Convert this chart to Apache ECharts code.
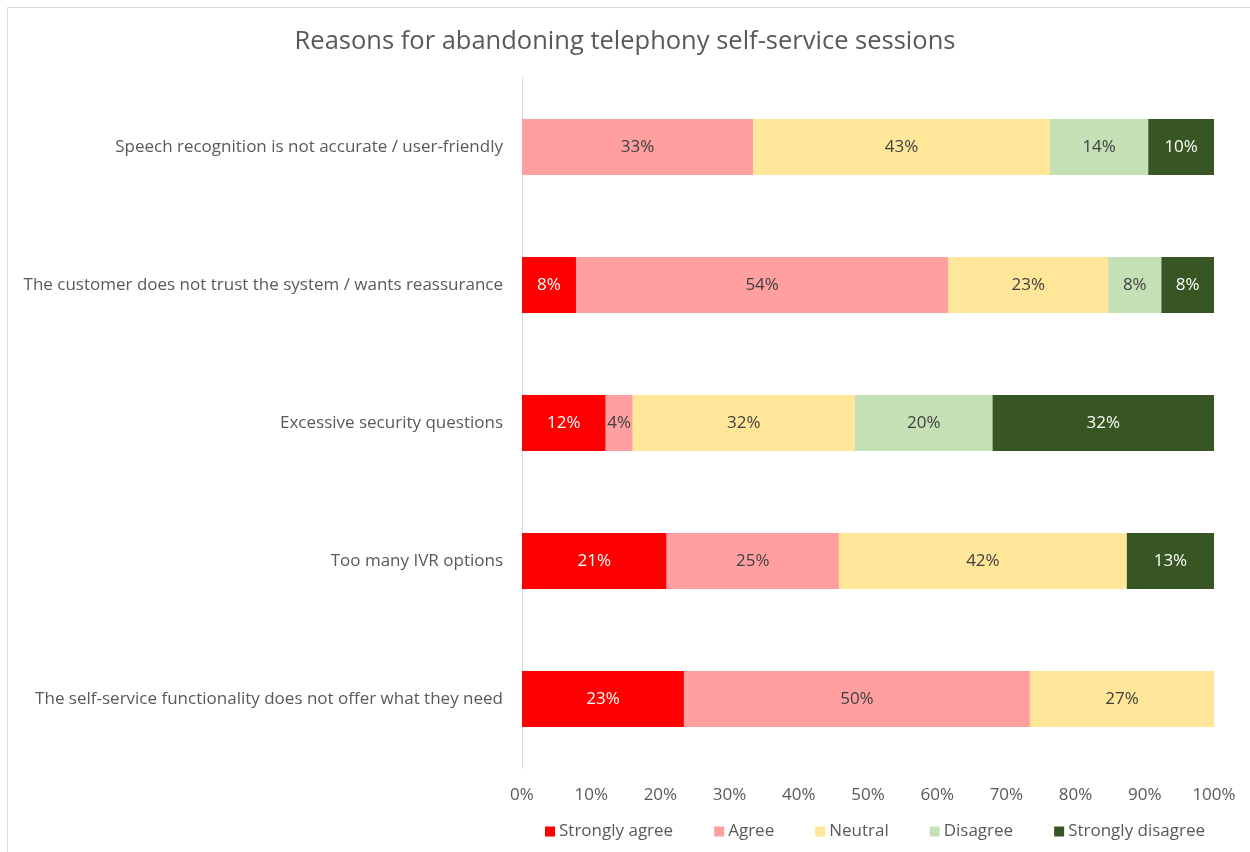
<!DOCTYPE html>
<html>
<head>
<meta charset="utf-8">
<script src="https://cdn.jsdelivr.net/npm/echarts@6/dist/echarts.min.js"></script>
<style>
html,body{margin:0;padding:0;background:#fff;}
#chart{width:1250px;height:852px;}
</style>
</head>
<body>
<div id="chart"></div>
<script>
const categories = [
  "Speech recognition is not accurate / user-friendly",
  "The customer does not trust the system / wants reassurance",
  "Excessive security questions",
  "Too many IVR options",
  "The self-service functionality does not offer what they need"
];
const seriesNames = ["Strongly agree", "Agree", "Neutral", "Disagree", "Strongly disagree"];
const stronglyAgree    = [null, 7.8, 12.1, 20.9, 23.4];
const agree            = [33.4, 53.8, 3.9, 24.9, 50.0];
const neutral          = [42.9, 23.1, 32.1, 41.6, 26.6];
const disagree         = [14.2, 7.7, 19.9, null, null];
const stronglyDisagree = [9.5, 7.7, 32.0, 12.6, null];
const xTicks = [0, 10, 20, 30, 40, 50, 60, 70, 80, 90, 100];

const colors = ["#FF0000", "#FF9F9F", "#FFE699", "#C5E0B4", "#375623"];
const labelColors = ["#FFFFFF", "#404040", "#404040", "#404040", "#FFFFFF"];
const allData = [stronglyAgree, agree, neutral, disagree, stronglyDisagree];
const FONT = "Open Sans";

const chart = echarts.init(document.getElementById('chart'), null, {renderer: 'canvas'});
chart.setOption({
  backgroundColor: '#ffffff',
  animation: false,
  textStyle: {fontFamily: FONT},
  graphic: [{
    type: 'rect', silent: true,
    shape: {x: 7.5, y: 7.5, width: 1300, height: 900},
    style: {fill: 'none', stroke: '#D9D9D9', lineWidth: 1}
  }],
  title: {
    text: 'Reasons for abandoning telephony self-service sessions',
    left: 'center', top: 24,
    textStyle: {fontFamily: FONT, fontSize: 25.5, fontWeight: 'normal', color: '#595959'}
  },
  legend: {
    data: seriesNames,
    left: 540, top: 818,
    itemWidth: 10, itemHeight: 10, itemGap: 41,
    icon: 'rect',
    textStyle: {fontFamily: FONT, fontSize: 17, color: '#595959', padding: [0, 0, 0, -1]}
  },
  grid: {left: 522, right: 36, top: 78, bottom: 84, containLabel: false},
  xAxis: {
    type: 'value', min: xTicks[0], max: xTicks[xTicks.length - 1], interval: 10,
    axisLine: {show: false}, axisTick: {show: false},
    splitLine: {show: false},
    axisLabel: {formatter: '{value}%', fontFamily: FONT, fontSize: 17, color: '#595959', margin: 19}
  },
  yAxis: {
    type: 'category', data: categories, inverse: true,
    axisLine: {show: true, lineStyle: {color: '#D9D9D9', width: 1}},
    axisTick: {show: false},
    axisLabel: {fontFamily: FONT, fontSize: 17, color: '#595959', margin: 19}
  },
  series: seriesNames.map((name, i) => ({
    name: name, type: 'bar', stack: 'total',
    barWidth: 56,
    data: allData[i],
    itemStyle: {color: colors[i]},
    label: {
      show: true, position: 'inside',
      fontFamily: FONT, fontSize: 17, color: labelColors[i],
      formatter: p => (p.value == null ? '' : Math.round(p.value) + '%')
    }
  }))
});
</script>
</body>
</html>
